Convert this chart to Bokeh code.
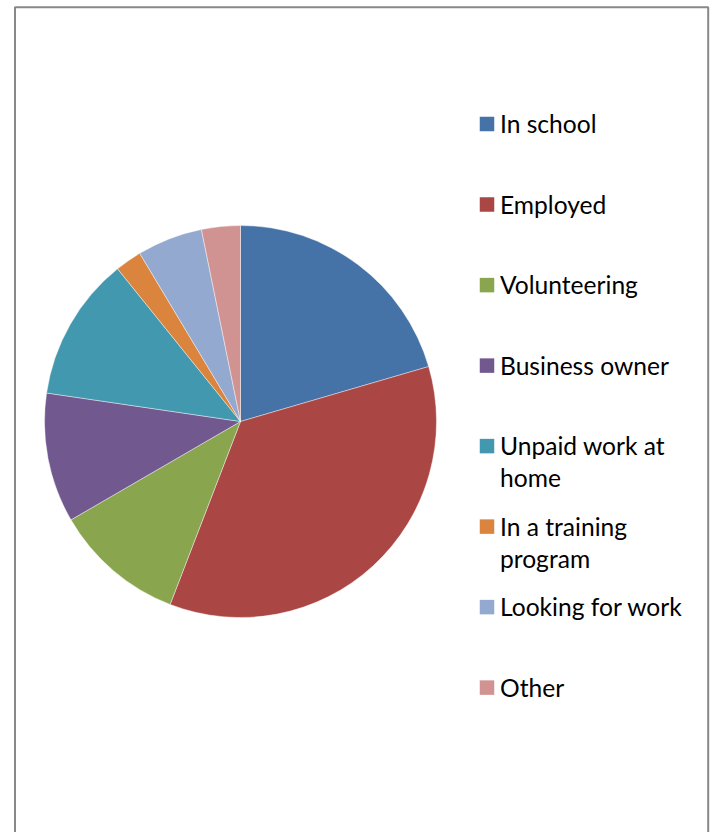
import math
from bokeh.plotting import figure
from bokeh.models import Range1d, ColumnDataSource
from bokeh.core.properties import value
from bokeh.embed import file_html
from bokeh.resources import INLINE

# ---- data (percent of respondents) ----
categories = ["In school", "Employed", "Volunteering", "Business owner",
              "Unpaid work at\nhome", "In a training\nprogram",
              "Looking for work", "Other"]
shares = [20.5, 35.4, 10.8, 10.7, 11.9, 2.2, 5.4, 3.2]
colors = ["#4572A7", "#AA4643", "#89A54E", "#71588F",
          "#4198AF", "#DB843D", "#93A9CF", "#D19392"]

W, H = 716, 832
p = figure(width=W, height=H, output_backend="svg", toolbar_location=None,
           x_range=Range1d(0, W), y_range=Range1d(0, H),
           min_border=0, outline_line_color=None, tools="")
p.axis.visible = False
p.grid.visible = False
p.background_fill_color = "white"
p.border_fill_color = "white"

def sy(y):  # screen y (down) -> data y (up)
    return H - y

# chart frame
p.quad(left=[14.5], right=[707.7], top=[sy(6.8)], bottom=[-20],
       fill_color=None, line_color="#888888", line_width=2)

# pie wedges, clockwise from 12 o'clock
total = sum(shares)
starts, ends = [], []
cum = 0.0
for s in shares:
    a0 = math.pi / 2 - 2 * math.pi * cum / total
    cum += s
    a1 = math.pi / 2 - 2 * math.pi * cum / total
    starts.append(a1)
    ends.append(a0)
src = ColumnDataSource(dict(start=starts, end=ends, color=colors))
cx, cy, r = 240, sy(421), 196
p.wedge(x=cx, y=cy, radius=r, start_angle="start", end_angle="end",
        fill_color="color", line_color="white", line_width=0.6,
        line_alpha=0.7, source=src)

# legend (manual, to match layout)
base0, step, lh = 132.3, 80.5, 32
text_shift = 9.0  # compensate renderer's baseline offset
sq_x, sq_size, tx = 486.5, 14.5, 499.5
rx, ry, rc = [], [], []
tx_l, ty_l, tt = [], [], []
for i, (lab, col) in enumerate(zip(categories, colors)):
    b = base0 + i * step
    rx.append(sq_x)
    ry.append(sy(b - 8.7))
    rc.append(col)
    for j, line in enumerate(lab.split("\n")):
        tx_l.append(tx)
        ty_l.append(sy(b + j * lh - text_shift))
        tt.append(line)
p.rect(x=rx, y=ry, width=sq_size, height=sq_size, fill_color=rc, line_color=None)
p.text(x=tx_l, y=ty_l, text=tt, text_font=value("Lato"), text_font_size="24.6px",
       text_baseline="alphabetic", text_align="left", text_color="black")

open("out.html", "w").write(file_html(p, INLINE))
